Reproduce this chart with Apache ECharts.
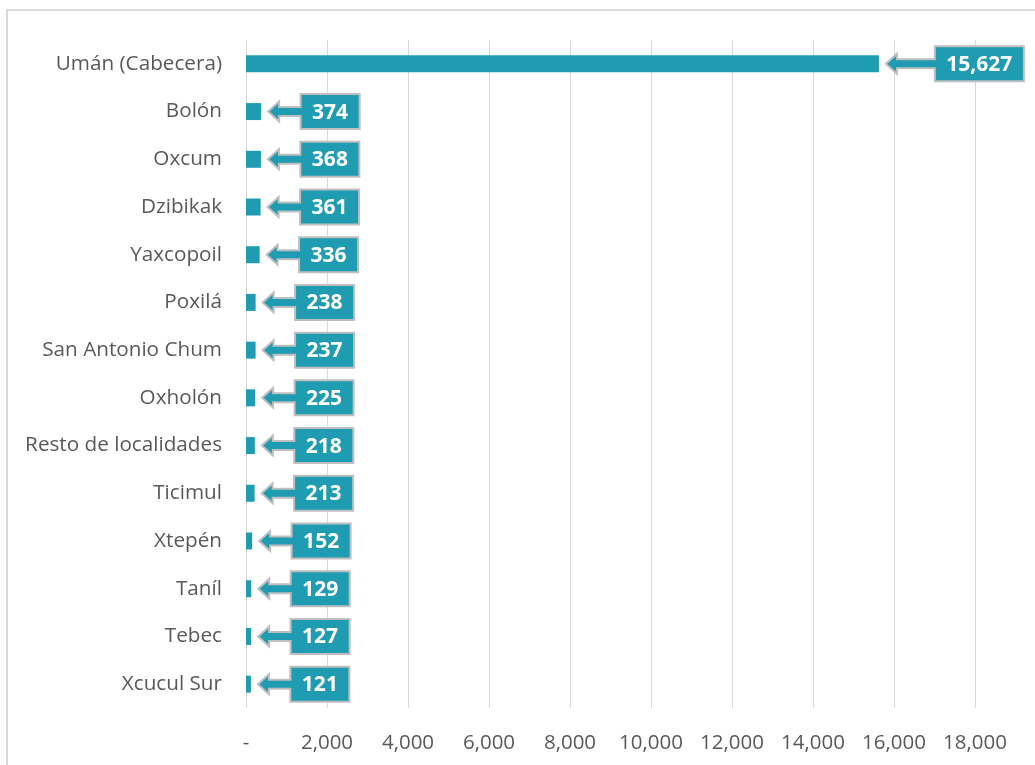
<!DOCTYPE html>
<html>
<head>
<meta charset="utf-8">
<script src="https://cdn.jsdelivr.net/npm/echarts@6/dist/echarts.min.js"></script>
<style>
html,body{margin:0;padding:0;background:#fff;}
#chart{width:1035px;height:765px;}
</style>
</head>
<body>
<div id="chart"></div>
<script>
const categories = ['Umán (Cabecera)','Bolón','Oxcum','Dzibikak','Yaxcopoil','Poxilá','San Antonio Chum','Oxholón','Resto de localidades','Ticimul','Xtepén','Taníl','Tebec','Xcucul Sur'];
const values = [15627,374,368,361,336,238,237,225,218,213,152,129,127,121];
const xMin = 0, xMax = 18000, xInterval = 2000;

const TEAL = '#1F9CB2';
const fmt = v => v === 0 ? '-' : v.toLocaleString('en-US');

const cv = document.createElement('canvas').getContext('2d');
const LABEL_FONT = 'bold 21px "Open Sans"';
cv.font = LABEL_FONT;

const chart = echarts.init(document.getElementById('chart'), null, {renderer:'canvas'});

chart.setOption({
  animation: false,
  backgroundColor: '#fff',
  graphic: [{
    type: 'rect', silent: true,
    shape: {x: 7, y: 10, width: 1100, height: 800},
    style: {fill: 'none', stroke: '#D9D9D9', lineWidth: 2}
  }],
  grid: {left: 246, right: 60, top: 40, bottom: 57, containLabel: false},
  xAxis: {
    type: 'value', min: xMin, max: xMax, interval: xInterval,
    axisLine: {show: false}, axisTick: {show: false},
    splitLine: {show: true, lineStyle: {color: '#D9D9D9', width: 1}},
    axisLabel: {
      formatter: fmt, color: '#595959', fontSize: 20.5,
      fontFamily: '"Open Sans"', margin: 25
    }
  },
  yAxis: {
    type: 'category', data: categories, inverse: true,
    axisLine: {show: false}, axisTick: {show: false},
    axisLabel: {color: '#595959', fontSize: 20.7, fontFamily: '"Open Sans"', margin: 24}
  },
  series: [
    {
      type: 'bar', data: values, barWidth: 17,
      itemStyle: {color: TEAL}, z: 2
    },
    {
      type: 'custom', clip: false, z: 5,
      data: values.map((v, i) => [v, i]),
      encode: {x: 0, y: 1},
      renderItem: function (params, api) {
        const v = api.value(0);
        const p = api.coord([v, api.value(1)]);
        const txt = fmt(v);
        const tw = cv.measureText(txt).width;
        const w = tw + 23;
        const tipX = p[0] + 7;
        const y = p[1];
        const arrowLen = 0.55 * w;
        const bx = tipX + arrowLen;
        const bh = 17.5, hl = 11, hh = 10, st = 4.5;
        const pts = [
          [tipX, y], [tipX + hl, y - hh], [tipX + hl, y - st], [bx, y - st],
          [bx, y - bh], [bx + w, y - bh], [bx + w, y + bh], [bx, y + bh],
          [bx, y + st], [tipX + hl, y + st], [tipX + hl, y + hh]
        ];
        return {
          type: 'group',
          children: [
            {type: 'polygon', shape: {points: pts},
             style: {fill: TEAL, stroke: '#BFBFBF', lineWidth: 2}},
            {type: 'text', style: {
              text: txt, x: bx + w / 2, y: y + 1, align: 'center', verticalAlign: 'middle',
              fill: '#fff', font: LABEL_FONT
            }}
          ]
        };
      }
    }
  ]
});
</script>
</body>
</html>
